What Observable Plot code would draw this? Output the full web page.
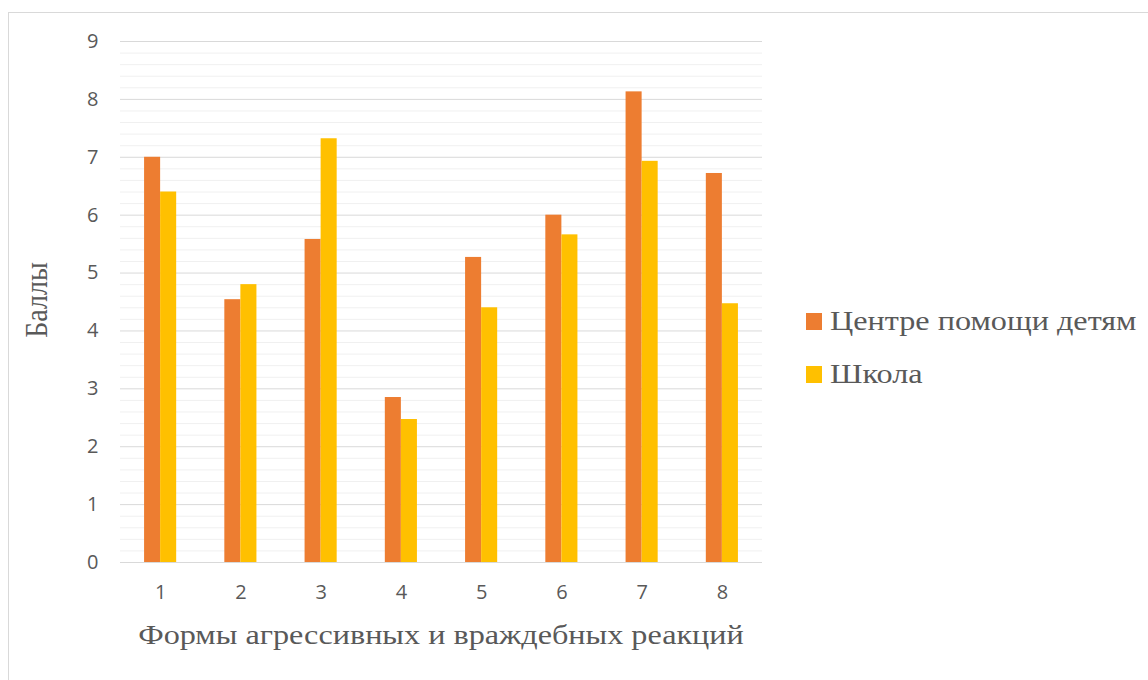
<!DOCTYPE html>
<html>
<head>
<meta charset="utf-8">
<script src="https://cdn.jsdelivr.net/npm/d3@7"></script>
<script src="https://cdn.jsdelivr.net/npm/@observablehq/plot@0.6"></script>
<style>
  html, body { margin: 0; padding: 0; background: #fff; }
  #wrap { position: relative; width: 1148px; height: 680px; overflow: hidden; }
  #frame { position: absolute; left: 8px; top: 12px; width: 1200px; height: 700px;
           border-top: 1px solid #d9d9d9; border-left: 1px solid #d9d9d9; }
  #chart { position: absolute; left: 0; top: 0; }
  .lbl { position: absolute; font-family: "Liberation Serif", "DejaVu Serif", serif; color: #595959; white-space: nowrap; }
  #ylab { font-size: 28px; left: 37px; top: 300px; transform: translate(-50%, -50%) rotate(-90deg) scaleY(1.15); }
  #xlab { font-size: 28px; left: 441px; top: 635px; transform: translate(-50%, -50%) scaleX(1.15); }
  #legend { position: absolute; left: 806px; top: 306px; font-family: "Liberation Serif", "DejaVu Serif", serif; color: #595959; font-size: 28px; }
  .item { display: flex; align-items: center; height: 30px; margin-bottom: 23px; white-space: nowrap; }
  .sw { width: 16px; height: 17px; margin-right: 8px; flex: none; }
  .item span { display: inline-block; transform: scaleX(1.15); transform-origin: left center; }
</style>
</head>
<body>
<div id="wrap">
  <div id="frame"></div>
  <div id="chart"></div>
  <div class="lbl" id="ylab">Баллы</div>
  <div class="lbl" id="xlab">Формы агрессивных и враждебных реакций</div>
  <div id="legend"></div>
</div>
<script>
const categories = [1, 2, 3, 4, 5, 6, 7, 8];
const seriesNames = ["Центре помощи детям", "Школа"];
const centreValues = [7.0, 4.54, 5.58, 2.85, 5.27, 6.0, 8.13, 6.72];
const schoolValues = [6.4, 4.8, 7.32, 2.47, 4.4, 5.66, 6.93, 4.47];
const colors = ["#ED7D31", "#FFC000"];
const yTicks = [0, 1, 2, 3, 4, 5, 6, 7, 8, 9];

const barWidth = 0.2; // in category units
const data = [];
categories.forEach((c, i) => {
  data.push({cat: c, series: seriesNames[0], value: centreValues[i], x1: c - barWidth, x2: c});
  data.push({cat: c, series: seriesNames[1], value: schoolValues[i], x1: c, x2: c + barWidth});
});

const minor = d3.range(0, 45).map(i => i / 5).filter(v => Math.abs(v - Math.round(v)) > 1e-6);

const chart = Plot.plot({
  width: 1148,
  height: 680,
  marginLeft: 120,
  marginRight: 386,
  marginTop: 41,
  marginBottom: 118,
  style: {fontFamily: "'Open Sans', 'Liberation Sans', sans-serif", fontSize: "20px", color: "#595959", background: "transparent"},
  x: {domain: [0.5, 8.5], axis: null},
  y: {domain: [0, 9], axis: null},
  color: {domain: seriesNames, range: colors},
  marks: [
    Plot.ruleY(minor, {stroke: "#f0f0f0", strokeWidth: 1}),
    Plot.ruleY(yTicks, {stroke: "#d9d9d9", strokeWidth: 1}),
    Plot.rectY(data, {x1: "x1", x2: "x2", y: "value", fill: "series"}),
    Plot.axisY(yTicks, {tickSize: 0, tickPadding: 22, label: null, fill: "#595959", tickFormat: d => String(d)}),
    Plot.axisX(categories, {tickSize: 0, tickPadding: 22, label: null, fill: "#595959", tickFormat: d => String(d)})
  ]
});
document.getElementById("chart").appendChild(chart);

const legend = document.getElementById("legend");
seriesNames.forEach((s, i) => {
  const it = document.createElement("div");
  it.className = "item";
  const sw = document.createElement("div");
  sw.className = "sw";
  sw.style.background = colors[i];
  const t = document.createElement("span");
  t.textContent = s;
  it.appendChild(sw); it.appendChild(t);
  legend.appendChild(it);
});
</script>
</body>
</html>
